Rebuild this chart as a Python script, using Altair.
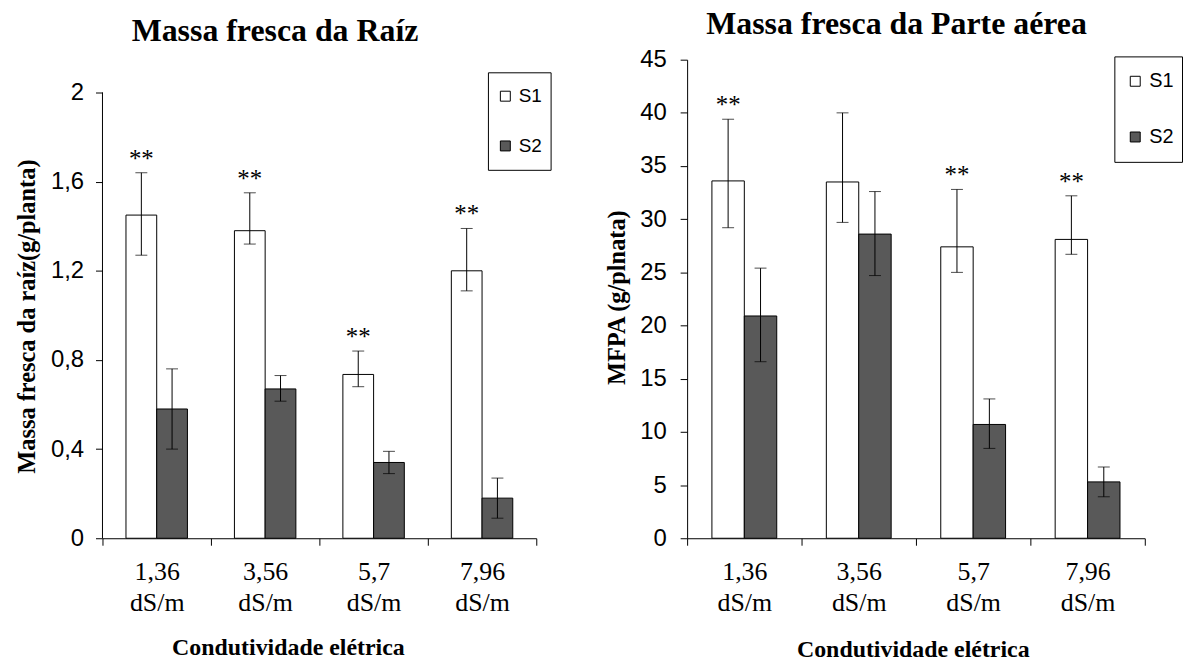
import altair as alt
import pandas as pd

# ---------------- data ----------------
categories = ["1,36 dS/m", "3,56 dS/m", "5,7 dS/m", "7,96 dS/m"]
series = ["S1", "S2"]

# Massa fresca da Raíz (g/planta)
raiz_s1 = [1.45, 1.38, 0.735, 1.20]
raiz_s1_lo = [1.27, 1.32, 0.68, 1.11]
raiz_s1_hi = [1.64, 1.55, 0.84, 1.39]
raiz_s2 = [0.58, 0.67, 0.34, 0.18]
raiz_s2_lo = [0.40, 0.615, 0.29, 0.09]
raiz_s2_hi = [0.76, 0.73, 0.39, 0.27]
raiz_sig_s1 = ["**", "**", "**", "**"]
raiz_sig_s2 = ["", "", "", ""]
raiz_ticks = [0, 0.4, 0.8, 1.2, 1.6, 2]

# Massa fresca da Parte aérea (g/planta)
aerea_s1 = [33.6, 33.5, 27.4, 28.1]
aerea_s1_lo = [29.2, 29.7, 25.0, 26.7]
aerea_s1_hi = [39.4, 40.0, 32.8, 32.2]
aerea_s2 = [20.9, 28.6, 10.7, 5.3]
aerea_s2_lo = [16.6, 24.7, 8.45, 3.9]
aerea_s2_hi = [25.4, 32.6, 13.1, 6.7]
aerea_sig_s1 = ["**", "", "**", "**"]
aerea_sig_s2 = ["", "", "", ""]
aerea_ticks = [0, 5, 10, 15, 20, 25, 30, 35, 40, 45]

fill_colors = ["white", "#595959"]


def make_frame(s1, s1lo, s1hi, s2, s2lo, s2hi, sig1, sig2):
    rows = []
    for i, c in enumerate(categories):
        rows.append(dict(cat=c, series="S1", value=s1[i], lo=s1lo[i], hi=s1hi[i], sig=sig1[i]))
        rows.append(dict(cat=c, series="S2", value=s2[i], lo=s2lo[i], hi=s2hi[i], sig=sig2[i]))
    return pd.DataFrame(rows)


PLOT_H = 481


def panel(df, ticks, ymax, width, title_text, title_dx, title_offset,
          ytitle, ytitle_x, ytitle_y, ylabel_pad, xtitle_x, xtitle_y, label_expr,
          legend_kw, draw_domain):
    xaxis = alt.Axis(
        title="Condutividade elétrica", titleFont="Liberation Serif", titleFontSize=24,
        titleFontWeight="bold", titleColor="black", titleX=xtitle_x, titleY=xtitle_y,
        titleBaseline="alphabetic", titleAlign="center",
        labelExpr="split(datum.label, ' ')", labelAngle=0, labelFont="Liberation Serif",
        labelFontSize=26, labelLineHeight=31.7, labelColor="black", labelBaseline="top",
        labelPadding=13, tickBand="extent", tickSize=7, tickColor="black", tickWidth=1,
        domainColor="black", domainWidth=1, grid=False, labelOverlap=False,
    )
    x = alt.X("cat:N", sort=categories,
              scale=alt.Scale(domain=categories, paddingInner=0, paddingOuter=0),
              axis=xaxis)
    xo = alt.XOffset("series:N",
                     scale=alt.Scale(domain=series, paddingInner=0, paddingOuter=0.765))
    yscale = alt.Scale(domain=[0, ymax], nice=False, zero=True)
    yaxis = alt.Axis(
        values=ticks, labelExpr=label_expr, labelFont="Liberation Sans", labelFontSize=24,
        labelColor="black", labelPadding=ylabel_pad, tickSize=7, tickColor="black", tickWidth=1,
        domain=draw_domain, domainColor="black", domainWidth=1, grid=False,
        title=ytitle, titleFont="Liberation Serif", titleFontSize=24.5, titleFontWeight="bold",
        titleColor="black", titleX=ytitle_x, titleY=ytitle_y, titleAngle=270,
        titleBaseline="middle", titleAlign="center",
    )
    base = alt.Chart(df)
    bars = base.mark_bar(stroke="black", strokeWidth=1).encode(
        x=x, xOffset=xo,
        y=alt.Y("value:Q", scale=yscale, axis=yaxis, title=ytitle),
        fill=alt.Fill("series:N", scale=alt.Scale(domain=series, range=fill_colors),
                      legend=alt.Legend(**legend_kw)),
    )
    rules = base.mark_rule(color="black", strokeWidth=1).encode(
        x=x, xOffset=xo, y=alt.Y("lo:Q", scale=yscale, title=ytitle), y2="hi:Q")
    cap_lo = base.mark_tick(color="black", thickness=1, size=12).encode(
        x=x, xOffset=xo, y=alt.Y("lo:Q", scale=yscale, title=ytitle))
    cap_hi = base.mark_tick(color="black", thickness=1, size=12).encode(
        x=x, xOffset=xo, y=alt.Y("hi:Q", scale=yscale, title=ytitle))
    stars = base.mark_text(font="Liberation Serif", fontSize=25, color="black",
                           baseline="alphabetic", align="center", dy=-6).encode(
        x=x, xOffset=xo, y=alt.Y("hi:Q", scale=yscale, title=ytitle), text="sig:N")
    layers = [bars, rules, cap_lo, cap_hi, stars]
    if not draw_domain:
        axis_df = pd.DataFrame({"lo": [ticks[0]], "hi": [ticks[-1]]})
        axis_line = alt.Chart(axis_df).mark_rule(color="black", strokeWidth=1).encode(
            x=alt.value(0), y=alt.Y("lo:Q", scale=yscale, title=ytitle), y2="hi:Q")
        layers.append(axis_line)
    return alt.layer(*layers).properties(
        width=width, height=PLOT_H,
        title=alt.TitleParams(
            text=title_text, font="Liberation Serif", fontSize=32, fontWeight="bold",
            color="black", anchor="middle", frame="group", baseline="alphabetic",
            offset=title_offset, dx=title_dx,
        ),
    )


raiz_df = make_frame(raiz_s1, raiz_s1_lo, raiz_s1_hi, raiz_s2, raiz_s2_lo, raiz_s2_hi,
                     raiz_sig_s1, raiz_sig_s2)
aerea_df = make_frame(aerea_s1, aerea_s1_lo, aerea_s1_hi, aerea_s2, aerea_s2_lo, aerea_s2_hi,
                      aerea_sig_s1, aerea_sig_s2)

left = panel(
    raiz_df, raiz_ticks, PLOT_H / 224.0, 436, "Massa fresca da Raíz", -44.6, -13.1,
    "Massa fresca da raíz(g/planta)", -75.6, 257.7, 12, 186.4, 116.7,
    "replace(toString(datum.value), '.', ',')",
    dict(title=None, orient="none", legendX=387.4, legendY=12.7, direction="vertical",
         symbolType="square", symbolSize=100, symbolStrokeColor="black",
         symbolStrokeWidth=1, labelFont="Liberation Sans", labelFontSize=19,
         labelColor="black", padding=8, rowPadding=18, clipHeight=32,
         strokeColor="black", fillColor="white", labelOffset=4, symbolOffset=0),
    False,
)

right = panel(
    aerea_df, aerea_ticks, 45, 460, "Massa fresca da Parte aérea", -19.5, -17.7,
    "MFPA (g/plnata)", -70.2, 238.7, 14, 226.8, 118.7,
    "toString(datum.value)",
    dict(title=None, orient="none", legendX=429.4, legendY=-3.3, direction="vertical",
         symbolType="square", symbolSize=100, symbolStrokeColor="black",
         symbolStrokeWidth=1, labelFont="Liberation Sans", labelFontSize=20,
         labelColor="black", padding=8, rowPadding=22, clipHeight=34,
         strokeColor="black", fillColor="white", labelOffset=4, symbolOffset=3),
    True,
)

chart = alt.hconcat(left, right, spacing=151.6, bounds="flush").resolve_scale(
    fill="independent", x="independent", y="independent", xOffset="independent"
).resolve_legend(fill="independent").properties(
    padding={"left": 14, "top": 5.3, "right": 0, "bottom": 0},
    background="white",
).configure_view(stroke=None)

chart.save("out.html", embed_options={"renderer": "svg", "actions": False})
